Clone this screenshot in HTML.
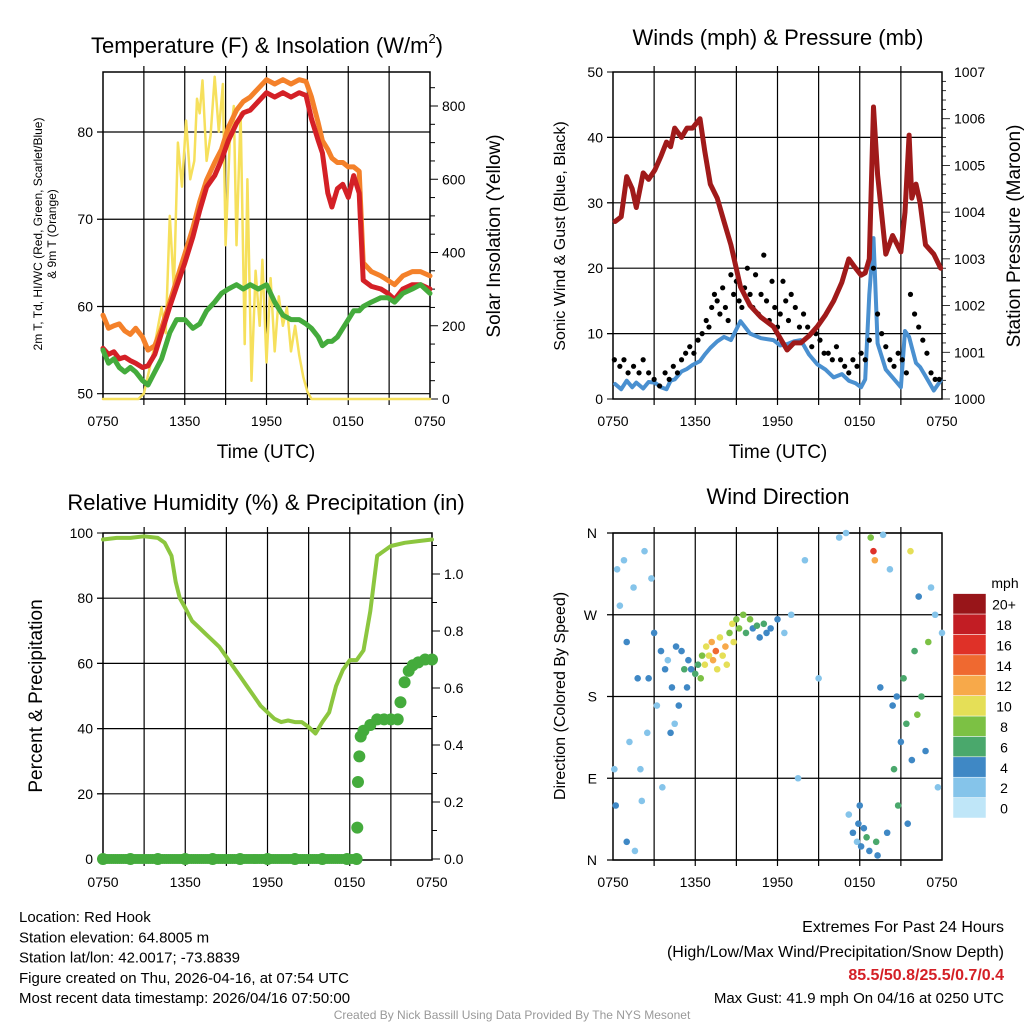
<!DOCTYPE html>
<html><head><meta charset="utf-8"><style>
body{margin:0;background:#fff;}
svg{display:block;font-family:"Liberation Sans",sans-serif;}
</style></head><body>
<svg id="c" width="1024" height="1024" viewBox="0 0 1024 1024" xmlns="http://www.w3.org/2000/svg"></svg>
<script>
// ---------- DATA ----------
const xTickLabels=["0750","1350","1950","0150","0750"];
// Temperature panel (hours since 0750)
const tHours=[0,0.4,0.8,1.2,1.6,2.0,2.4,2.9,3.3,3.8,4.3,4.9,5.4,6.0,6.6,7.1,7.6,8.2,8.7,9.2,9.8,10.3,10.8,11.4,12.0,12.6,13.2,13.8,14.4,14.9,15.3,15.8,16.1,16.5,16.8,17.2,17.6,18.0,18.4,18.8,19.1,19.7,20.4,20.9,21.4,22.0,22.7,23.3,24];
const tempRed=[55.2,54.5,54.8,54,54.2,53.8,53.5,53,53.2,54.5,57,60,62.3,65,68,71,73.7,75,76.8,79,81,82.2,82.5,83.5,84.5,84,84.5,84,84.5,84.2,81.5,79,77.6,73,71.4,73.5,74,72.5,75,73,63,62.3,62,61.5,60.8,62,62.5,62.5,62];
const tempOrange=[59,57.5,57.8,58,57.2,56.8,57.5,56.5,55,55.5,57.5,60.5,63,66,69,72,74.5,76.5,78,80.5,82.5,83.5,84,85,86,85.5,86,85.5,86,85.8,84,81,79,78,77,76.5,76.5,76,76,75.5,65,64,63.5,63,62.5,63.5,64,64,63.5];
const tempGreen=[55,53.5,54,53,52.5,53,52.5,51.5,51,52.5,54,57,58.5,58.5,57.5,58,59.5,60.5,61.5,62,62.5,62,62.5,62,62.5,60.5,59,58.5,58.5,58,57.5,56.5,55.5,56,56,56.5,57.5,58.5,59.5,59.5,60,60.5,61,61,60.5,61.5,62,62.5,61.5];
const solarHours=[0,2.6,3.0,3.4,3.8,4.3,4.6,4.9,5.2,5.5,5.8,6.1,6.4,6.7,6.9,7.1,7.3,7.6,7.9,8.2,8.5,8.8,9.0,9.3,9.6,9.8,10.1,10.4,10.6,10.9,11.2,11.5,11.7,12.0,12.3,12.6,12.9,13.2,13.5,13.8,14.1,14.4,14.7,15.0,15.3,15.6,24];
const solarVals=[0,0,15,80,150,250,180,500,300,700,580,760,600,650,820,780,870,650,720,880,730,860,420,700,800,420,780,150,600,50,350,200,380,100,330,130,280,200,250,130,200,120,60,20,0,0,0];
// Winds panel
const wHours=[0.15,0.6,1.0,1.4,1.7,2.2,2.6,3.05,3.5,3.9,4.2,4.5,5.0,5.4,5.8,6.35,6.7,7.1,7.6,8.1,8.6,9.3,10.0,10.8,11.7,12.2,12.7,13.2,13.7,14.3,14.9,15.5,16.1,16.7,17.2,17.7,18.1,18.4,18.7,19.0,19.3,19.9,20.4,21.0,21.3,21.6,21.8,22.1,22.4,22.8,23.4,23.9];
const pressure=[1003.8,1003.9,1004.76,1004.5,1004.1,1004.84,1004.7,1004.9,1005.2,1005.5,1005.4,1005.8,1005.6,1005.8,1005.8,1006.0,1005.3,1004.6,1004.3,1003.8,1003.3,1002.4,1002.0,1001.75,1001.55,1001.3,1001.05,1001.2,1001.2,1001.35,1001.55,1001.8,1002.1,1002.5,1003.0,1002.8,1002.65,1002.7,1003.0,1006.25,1004.8,1003.1,1003.5,1003.15,1004.0,1005.65,1004.3,1004.6,1004.2,1003.3,1003.1,1002.8];
const windSpeed=[2.3,1.5,2.8,1.8,2.5,1.6,2.6,2.5,1.8,1.5,2.8,3.0,4.2,4.6,5.2,5.8,6.8,7.8,8.8,9.5,9.0,11.9,10,9.3,9.0,8.2,8.4,8.8,9.0,6.8,5.3,4.5,3.3,3.8,2.8,2.4,1.8,3.0,16,24.6,8.5,4.5,3.3,1.8,10.4,9.5,7.9,5.5,4.9,3.5,1.3,2.8];
const gustHours=[0.1,0.5,0.8,1.1,1.5,1.9,2.2,2.6,3.0,3.4,3.8,4.1,4.4,4.7,5.0,5.3,5.6,5.9,6.2,6.5,6.8,7.0,7.2,7.4,7.6,7.8,8.0,8.2,8.4,8.6,8.8,9.0,9.2,9.4,9.6,9.8,10.0,10.2,10.4,10.6,10.8,11.0,11.2,11.4,11.6,11.8,12.0,12.2,12.4,12.6,12.8,13.0,13.3,13.6,13.9,14.2,14.5,14.8,15.1,15.4,15.7,16.0,16.3,16.6,16.9,17.2,17.5,17.8,18.1,18.4,18.7,19.0,19.3,19.6,19.9,20.2,20.5,20.8,21.1,21.4,21.7,22.0,22.3,22.6,22.9,23.2,23.5,23.8];
const gustVals=[6,5,6,4,5,4,6,4,3,2,4,3,5,4,6,7,8,7,9,10,12,11,14,16,15,13,17,14,12,19,16,18,15,14,17,20,16,14,19,13,16,22,15,12,18,14,11,13,18,15,12,16,14,11,13,11,8,10,9,7,7,6,8,6,5,4,6,5,7,6,9,20,13,10,8,6,5,7,6,4,16,13,11,9,7,4,3,3];
// RH panel
const rhHours=[0,1,2,3,4,4.5,5,5.3,5.6,6,6.5,7,7.5,8,8.5,9,9.5,10,10.5,11,11.5,12,12.5,13,13.5,14,14.5,15,15.5,16,16.5,17,17.5,18,18.5,19,19.5,20,21,22,23,24];
const rhVals=[98,98.5,98.5,99,98.5,97,93,85,80,77,73,71,69,67,65,62,59,56,53,50,47,45,43,42,42.5,42,42,40.5,38.5,42,45,53,58,61,61,64,76,93,96,97,97.5,98];
const prHours=[0,2,4,6,8,10,12,14,16,17.8,18.5,18.55,18.6,18.7,18.8,19,19.5,20,20.5,21,21.5,21.7,22,22.3,22.6,23,23.5,24];
const prVals=[0,0,0,0,0,0,0,0,0,0,0,0.11,0.27,0.36,0.43,0.45,0.47,0.49,0.49,0.49,0.49,0.55,0.62,0.66,0.68,0.69,0.70,0.70];
// Wind direction panel
const dirHours=[0.1,0.2,0.3,0.5,0.8,1,1,1.2,1.5,1.6,1.8,2,2.1,2.3,2.5,2.6,2.8,3,3.2,3.5,3.6,3.8,4,4.2,4.3,4.5,4.6,4.8,5,5.2,5.4,5.5,5.7,6,6.2,6.4,6.5,6.7,6.8,7,7.2,7.3,7.5,7.6,7.8,8,8.2,8.3,8.5,8.7,8.8,9,9.2,9.5,9.7,10,10.2,10.5,10.7,11,11.2,11.5,12,12.5,13,13.5,14,15,16.5,17,17.2,17.5,17.8,17.9,18,18.1,18.3,18.5,18.7,18.8,19,19.1,19.2,19.3,19.5,19.7,20,20.2,20.4,20.5,20.7,20.8,21,21.2,21.4,21.5,21.7,21.8,22,22.2,22.3,22.5,22.8,23,23.2,23.5,23.7,24];
const dirDeg=[100,60,320,280,330,240,20,130,300,10,200,100,65,340,140,200,310,250,170,230,80,210,220,140,190,150,235,170,230,210,190,220,210,205,215,200,225,215,235,225,240,220,230,210,245,225,235,215,250,260,240,265,255,270,250,265,255,258,245,260,250,255,265,250,270,90,330,200,355,360,50,30,20,40,60,15,35,25,10,355,340,330,20,5,190,358,30,320,170,100,180,60,130,200,150,40,340,110,230,160,290,180,120,240,300,270,80,250];
const dirSpeed=[2,3,1,2,2,3,3,1,2,1,3,2,1,2,1,3,2,3,2,3,1,4,2,3,4,2,4,3,4,5,4,4,4,5,6,7,8,9,10,9,11,12,13,10,10,9,11,10,7,9,10,8,7,8,6,7,4,6,4,5,3,4,3,2,1,1,1,1,2,2,2,3,2,3,4,3,4,5,4,7,16,12,6,4,3,2,3,2,4,5,3,6,4,5,6,4,10,3,5,7,4,6,4,7,2,2,2,1];
const speedColors=["#bfe6f8","#85c4ea","#3f88c5","#4aa86c","#7cc144","#e5df57","#f7a94a","#ef6930","#df3128","#c21d24","#981519"];
const speedLabels=["0","2","4","6","8","10","12","14","16","18","20+"];
// ---------- DRAW ----------
const S=document.getElementById('c');const NS="http://www.w3.org/2000/svg";
function el(t,a,p){const e=document.createElementNS(NS,t);for(const k in a)e.setAttribute(k,a[k]);(p||S).appendChild(e);return e;}
function tx(x,y,s,size,anchor,extra){const e=el('text',Object.assign({x:x,y:y,'font-size':size,'text-anchor':anchor||'middle',fill:'#000'},extra||{}));e.textContent=s;return e;}
function lin(d0,d1,r0,r1){return v=>r0+(v-d0)*(r1-r0)/(d1-d0);}
function frame(name){
  const g=el('g',{});
  
  
  return g;
}
function vgrid(g,x0,y0,x1,y1){
  for(let i=1;i<8;i++){const x=x0+(x1-x0)*i/8;el('line',{x1:x,y1:y0-6,x2:x,y2:y1+6,stroke:'#000','stroke-width':1.2},g);}
  const fx=lin(0,24,x0,x1);
  for(let i=0;i<5;i++){const t=tx(fx(i*6),y1+27,xTickLabels[i],14);}
}
function box(g,x0,y0,x1,y1){el('rect',{x:x0,y:y0,width:x1-x0,height:y1-y0,fill:'none',stroke:'#000','stroke-width':1.5},g);}
function path(g,xs,ys,fx,fy,color,w,name){
  let d='';for(let i=0;i<xs.length;i++)d+=(i?'L':'M')+fx(xs[i]).toFixed(1)+','+fy(ys[i]).toFixed(1);
  const p=el('path',{d:d,fill:'none',stroke:color,'stroke-width':w,'stroke-linejoin':'round','stroke-linecap':'round'},g);
  
  
  return p;
}
// Panel 1: temperature
(function(){
  const x0=103,x1=430,y0=72,y1=399;
  const g=frame('temperature-panel');
  const fx=lin(0,24,x0,x1), fy=lin(50,80,393.7,132), fs=lin(0,800,399,106);
  const t=tx(267,53,'Temperature (F) & Insolation (W/m',22);
  
  const sp=el('tspan',{'font-size':13,dy:-10},t);sp.textContent='2';
  const sp2=el('tspan',{dy:10},t);sp2.textContent=')';
  [50,60,70,80].forEach(v=>{el('line',{x1:x0-6,y1:fy(v),x2:x1,y2:fy(v),stroke:'#000','stroke-width':1.2},g);tx(x0-10,fy(v)+5,v,14,'end');});
  for(let v=0;v<=850;v+=50){const l=v%200==0?8:5;el('line',{x1:x1,y1:fs(v),x2:x1+l,y2:fs(v),stroke:'#000'},g);}
  [0,200,400,600,800].forEach(v=>tx(x1+12,fs(v)+5,v,14,'start'));
  vgrid(g,x0,y0,x1,y1);box(g,x0,y0,x1,y1);
  path(g,solarHours,solarVals,fx,fs,'#f6e05c',2.5,'solar-insolation-line');
  path(g,tHours,tempOrange,fx,fy,'#f4812a',5,'temp-9m-line');
  path(g,tHours,tempRed,fx,fy,'#d42026',5,'temp-2m-line');
  path(g,tHours,tempGreen,fx,fy,'#44ab3c',5,'dewpoint-line');
  tx(266,458,'Time (UTC)',19);
  const a=tx(0,0,'2m T, Td, HI/WC (Red, Green, Scarlet/Blue)',12,'middle',{transform:'translate(42,234) rotate(-90)'});
  tx(0,0,'& 9m T (Orange)',12,'middle',{transform:'translate(56,234) rotate(-90)'});
  tx(0,0,'Solar Insolation (Yellow)',19,'middle',{transform:'translate(500,236) rotate(-90)'});
})();
// Panel 2: winds
(function(){
  const x0=613,x1=942,y0=72,y1=399;
  const g=frame('winds-panel');
  const fx=lin(0,24,x0,x1), fy=lin(0,50,y1,y0), fp=lin(1000,1007,y1,y0);
  tx(778,45,'Winds (mph) & Pressure (mb)',22);
  [10,20,30,40].forEach(v=>el('line',{x1:x0-6,y1:fy(v),x2:x1,y2:fy(v),stroke:'#000','stroke-width':1.2},g));
  [0,10,20,30,40,50].forEach(v=>{el('line',{x1:x0-6,y1:fy(v),x2:x0,y2:fy(v),stroke:'#000'},g);tx(x0-10,fy(v)+5,v,14,'end');});
  for(let v=1000;v<=1007;v+=0.2){const l=Math.abs(v-Math.round(v))<0.01?8:4;el('line',{x1:x1,y1:fp(v),x2:x1+l,y2:fp(v),stroke:'#000','stroke-width':0.8},g);}
  for(let v=1000;v<=1007;v++)tx(x1+12,fp(v)+5,v,14,'start');
  vgrid(g,x0,y0,x1,y1);box(g,x0,y0,x1,y1);
  path(g,wHours,windSpeed,fx,fy,'#4a90d0',4,'sonic-wind-line');
  gustHours.forEach((h,i)=>{const c=el('circle',{cx:fx(h),cy:fy(gustVals[i]),r:2.6,fill:'#000'},g);
    
    });
  path(g,wHours,pressure,fx,fp,'#a01a1a',5,'pressure-line');
  tx(778,458,'Time (UTC)',19);
  tx(0,0,'Sonic Wind & Gust (Blue, Black)',16,'middle',{transform:'translate(565,236) rotate(-90)'});
  tx(0,0,'Station Pressure (Maroon)',19,'middle',{transform:'translate(1020,236) rotate(-90)'});
})();
// Panel 3: RH
(function(){
  const x0=103,x1=432,y0=533,y1=860;
  const g=frame('humidity-panel');
  const fx=lin(0,24,x0,x1), fy=lin(0,100,859,533), fp=lin(0,1,859,574);
  tx(266,510,'Relative Humidity (%) & Precipitation (in)',22);
  [20,40,60,80].forEach(v=>el('line',{x1:x0-6,y1:fy(v),x2:x1,y2:fy(v),stroke:'#000','stroke-width':1.2},g));
  [0,20,40,60,80,100].forEach(v=>{el('line',{x1:x0-6,y1:fy(v),x2:x0,y2:fy(v),stroke:'#000'},g);tx(x0-10,fy(v)+5,v,14,'end');});
  for(let v=0;v<=1.1;v+=0.1){const l=Math.round(v*10)%2==0?8:5;el('line',{x1:x1,y1:fp(v),x2:x1+l,y2:fp(v),stroke:'#000'},g);}
  [0,0.2,0.4,0.6,0.8,1.0].forEach(v=>tx(x1+12,fp(v)+5,v.toFixed(1),14,'start'));
  vgrid(g,x0,y0,x1,y1);box(g,x0,y0,x1,y1);
  path(g,rhHours,rhVals,fx,fy,'#8cc63f',4,'rh-line');
  for(let h=0;h<=18.5;h+=0.15){const c=el('circle',{cx:fx(h),cy:fp(0),r:5,fill:'#44ab3c'},g);
    
    }
  prHours.forEach((h,i)=>{const c=el('circle',{cx:fx(h),cy:fp(prVals[i]),r:6,fill:'#44ab3c'},g);
    
    });
  tx(0,0,'Percent & Precipitation',19,'middle',{transform:'translate(42,696) rotate(-90)'});
})();
// Panel 4: wind direction
(function(){
  const x0=613,x1=942,y0=533,y1=860;
  const g=frame('wind-direction-panel');
  const fx=lin(0,24,x0,x1), fy=lin(0,360,y1,y0);
  tx(778,504,'Wind Direction',22);
  const lab=['N','E','S','W','N'];
  [0,90,180,270,360].forEach((v,i)=>{el('line',{x1:x0-6,y1:fy(v),x2:x1,y2:fy(v),stroke:'#000','stroke-width':1.2},g);tx(x0-16,fy(v)+5,lab[i],14,'end');});
  vgrid(g,x0,y0,x1,y1);box(g,x0,y0,x1,y1);
  dirHours.forEach((h,i)=>{const k=Math.min(10,Math.round(dirSpeed[i]/2));
    const c=el('circle',{cx:fx(h),cy:fy(dirDeg[i]),r:3.3,fill:speedColors[k]},g);
    
    });
  tx(0,0,'Direction (Colored By Speed)',16,'middle',{transform:'translate(565,696) rotate(-90)'});
  const lg=el('g',{});
  
  
  tx(1005,588,'mph',14,'middle');
  for(let i=0;i<11;i++){const y=818-(i+1)*20.4;el('rect',{x:953,y:y,width:33,height:20.4,fill:speedColors[i],stroke:'#fff','stroke-width':0.5},lg);
    tx(1004,y+16,speedLabels[i],14,'middle');}
})();
// Footer
const foot=["Location: Red Hook","Station elevation: 64.8005 m","Station lat/lon: 42.0017; -73.8839","Figure created on Thu, 2026-04-16, at 07:54 UTC","Most recent data timestamp: 2026/04/16 07:50:00"];
foot.forEach((s,i)=>{const t=tx(19,922+i*20.3,s,15,'start');});
tx(1004,932,'Extremes For Past 24 Hours',16,'end');
tx(1004,957,'(High/Low/Max Wind/Precipitation/Snow Depth)',16,'end');
tx(1004,980,'85.5/50.8/25.5/0.7/0.4',16,'end',{fill:'#d42026','font-weight':'bold'});
tx(1004,1003,'Max Gust: 41.9 mph On 04/16 at 0250 UTC',15,'end');
tx(512,1019,'Created By Nick Bassill Using Data Provided By The NYS Mesonet',12,'middle',{fill:'#999'});
</script>
</body></html>
